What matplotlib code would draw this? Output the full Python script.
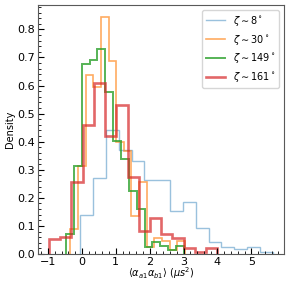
import numpy as np
import matplotlib
matplotlib.use('Agg')
import matplotlib.pyplot as plt
from matplotlib.ticker import AutoMinorLocator, MultipleLocator

# histogram bins: (first edge, last edge, number of bins)
bins_8 = (-0.05, 5.635, 15)
bins_30 = (-0.34, 3.04, 15)
bins_149 = (-0.47, 3.01, 15)
bins_161 = (-0.97, 3.995, 15)

# densities of each bin
dens_8 = [0.14, 0.27, 0.44, 0.37, 0.33, 0.263, 0.263, 0.152, 0.187, 0.094,
          0.042, 0.026, 0.018, 0.026, 0.008]
dens_30 = [0.088, 0.313, 0.638, 0.594, 0.845, 0.686, 0.40, 0.367, 0.134, 0.256,
           0.026, 0.058, 0.047, 0.014, 0.047]
dens_149 = [0.072, 0.315, 0.675, 0.69, 0.73, 0.576, 0.403, 0.34, 0.223, 0.16,
            0.026, 0.044, 0.029, 0.014, 0.029]
dens_161 = [0.053, 0.062, 0.256, 0.46, 0.61, 0.42, 0.53, 0.275, 0.083, 0.13,
            0.072, 0.058, 0.02, 0.008, 0.02]

labels = [r'$\zeta\sim8^\circ$', r'$\zeta\sim30^\circ$',
          r'$\zeta\sim149^\circ$', r'$\zeta\sim161^\circ$']

plt.rcParams['font.size'] = 7

fig, ax = plt.subplots(figsize=(2.91, 2.88), dpi=100)
fig.subplots_adjust(left=0.13, right=0.976, top=0.983, bottom=0.118)

series = [(bins_8, dens_8, 'tab:blue', 0.45, 1.0),
          (bins_30, dens_30, 'tab:orange', 0.65, 1.2),
          (bins_149, dens_149, 'tab:green', 0.8, 1.4),
          (bins_161, dens_161, 'tab:red', 0.7, 1.9)]

for (b, d, c, a, lw), lab in zip(series, labels):
    edges = np.linspace(b[0], b[1], b[2] + 1)
    ax.stairs(d, edges, color=c, alpha=a, lw=lw, label=lab)

ax.xaxis.set_major_locator(MultipleLocator(1))
ax.yaxis.set_major_locator(MultipleLocator(0.1))
ax.xaxis.set_minor_locator(AutoMinorLocator(5))
ax.yaxis.set_minor_locator(AutoMinorLocator(5))
ax.tick_params(which='both', direction='in', labelsize=8, pad=2)
ax.tick_params(which='major', length=4)
ax.tick_params(which='minor', length=2)
for s in ax.spines.values():
    s.set_color('0.35')

ax.set_xlabel(r'$\langle\alpha_{a1}\alpha_{b1}\rangle$ ($\mu s^2$)', labelpad=-1)
ax.set_ylabel('Density', labelpad=2)
ax.legend(loc='upper right', fontsize=7)

fig.savefig('out.png', dpi=100)
